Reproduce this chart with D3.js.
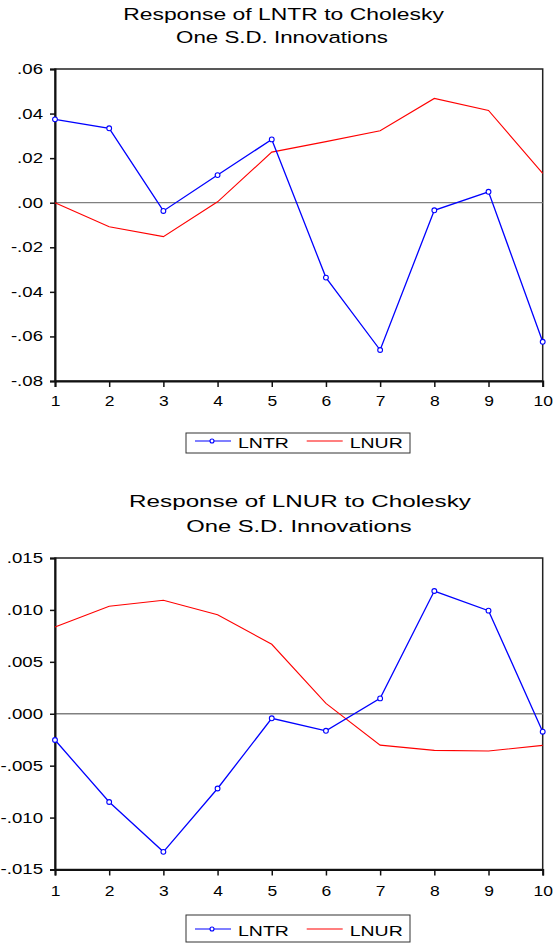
<!DOCTYPE html>
<html>
<head>
<meta charset="utf-8">
<script src="https://cdn.jsdelivr.net/npm/d3@7"></script>
<style>
  body { margin: 0; background: #fff; }
  svg { display: block; font-family: "Liberation Sans", Arial, sans-serif; }
</style>
</head>
<body>
<script>
// periods on the x axis
var periods = [1, 2, 3, 4, 5, 6, 7, 8, 9, 10];

// response of LNTR
var topLNTR = [0.0374, 0.0334, -0.0037, 0.0124, 0.0284, -0.0336, -0.0661, -0.0034, 0.0049, -0.0624];
var topLNUR = [0.0000, -0.0108, -0.0152, 0.0004, 0.0227, 0.0274, 0.0323, 0.0468, 0.0414, 0.0132];
var topTicks = [0.06, 0.04, 0.02, 0.00, -0.02, -0.04, -0.06, -0.08];

// response of LNUR
var botLNTR = [-0.00253, -0.0085, -0.0133, -0.0072, -0.00044, -0.00164, 0.00148, 0.01182, 0.00993, -0.00173];
var botLNUR = [0.00835, 0.01035, 0.01093, 0.00954, 0.00669, 0.00100, -0.00302, -0.00353, -0.00359, -0.00305];
var botTicks = [0.015, 0.010, 0.005, 0.000, -0.005, -0.010, -0.015];

var seriesNames = ["LNTR", "LNUR"];
var colors = ["#0000ff", "#ff0000"];

var svg = d3.select("body").append("svg").attr("width", 553).attr("height", 944);

// eviews style labels: ".06", "-.02"
var fmt = function(dec) {
  return function(v) {
    var s = Math.abs(v).toFixed(dec).replace(/^0/, "");
    return (v < -1e-9 ? "-" : "") + s;
  };
};

// the eviews text is stretched sideways, so scale it
var stretch = function(sel, sx) {
  sel.each(function() {
    var t = d3.select(this);
    var x0 = +t.attr("x") || 0;
    t.attr("x", x0 / sx).attr("transform", "scale(" + sx + ",1)");
  });
};

var drawPanel = function(p) {
  var g = svg.append("g");
  var x = d3.scaleLinear().domain([1, 10]).range([55, 542.7]);
  var y = d3.scaleLinear().domain(p.domain).range([p.bottom, p.top]);

  // titles, fitted to the widths in the picture
  p.title.forEach(function(txt, i) {
    var t = g.append("g").attr("transform", "translate(" + p.titleX[i] + "," + (p.titleY + i * p.titleGap) + ")")
      .append("text").attr("text-anchor", "middle").style("font-size", p.titleSize + "px").text(txt);
    var len = t.node().getComputedTextLength();
    t.attr("transform", "scale(" + (p.titleW[i] / len) + ",1)");
  });

  // frame
  g.append("rect").attr("x", x(1)).attr("y", p.top).attr("width", x(10) - x(1)).attr("height", p.bottom - p.top)
    .attr("fill", "none").attr("stroke", "#222").attr("stroke-width", 1.5);

  // zero line
  g.append("line").attr("x1", x(1)).attr("x2", x(10)).attr("y1", y(0)).attr("y2", y(0))
    .attr("stroke", "#808080").attr("stroke-width", 1.3);

  // y axis
  var ya = g.append("g").attr("transform", "translate(" + x(1) + ",0)")
    .call(d3.axisLeft(y).tickValues(p.ticks).tickFormat(fmt(p.dec)).tickSize(5).tickPadding(7));
  ya.select(".domain").attr("stroke", "#111").attr("stroke-width", 2);
  ya.selectAll(".tick line").attr("stroke", "#111").attr("stroke-width", 1.5);
  ya.selectAll("text").attr("fill", "#000").style("font-size", "14px")
    .attr("font-family", "Liberation Sans, Arial, sans-serif").call(stretch, 1.33);

  // x axis
  var xa = g.append("g").attr("transform", "translate(0," + p.bottom + ")")
    .call(d3.axisBottom(x).tickValues(periods).tickFormat(d3.format("d")).tickSize(6).tickPadding(p.xPad));
  xa.select(".domain").attr("stroke", "#111").attr("stroke-width", 2);
  xa.selectAll(".tick line").attr("stroke", "#111").attr("stroke-width", 1.5);
  xa.selectAll("text").attr("fill", "#000").style("font-size", "14px")
    .attr("font-family", "Liberation Sans, Arial, sans-serif").call(stretch, 1.25);

  var line = d3.line().x(function(d, i) { return x(periods[i]); }).y(function(d) { return y(d); });

  g.append("path").datum(p.lnur).attr("d", line).attr("fill", "none").attr("stroke", colors[1]).attr("stroke-width", 1.1);
  g.append("path").datum(p.lntr).attr("d", line).attr("fill", "none").attr("stroke", colors[0]).attr("stroke-width", 1.3);
  g.selectAll(".mk").data(p.lntr).enter().append("circle")
    .attr("cx", function(d, i) { return x(periods[i]); }).attr("cy", function(d) { return y(d); })
    .attr("r", 2.4).attr("fill", "#fff").attr("stroke", colors[0]).attr("stroke-width", 1.1);

  // legend
  var lg = g.append("g");
  lg.append("rect").attr("x", 186).attr("y", p.legTop).attr("width", 224).attr("height", p.legH)
    .attr("fill", "#fff").attr("stroke", "#333").attr("stroke-width", 1);
  var items = lg.selectAll(".item").data(seriesNames).enter().append("g")
    .attr("transform", function(d, i) { return "translate(" + (195 + i * 111.7) + "," + p.legLine + ")"; });
  items.append("line").attr("x1", 0).attr("x2", 36).attr("y1", 0).attr("y2", 0)
    .attr("stroke", function(d, i) { return colors[i]; }).attr("stroke-width", 1.2);
  items.filter(function(d, i) { return i === 0; }).append("circle").attr("cx", 17).attr("cy", 0).attr("r", 2)
    .attr("fill", "#fff").attr("stroke", colors[0]).attr("stroke-width", 1.1);
  items.append("text").attr("x", 43).attr("y", 7).style("font-size", "15px")
    .text(function(d) { return d; }).call(stretch, 1.3);
};

drawPanel({
  title: ["Response of LNTR to Cholesky", "One S.D. Innovations"], titleY: 19.5, titleGap: 23.2,
  titleX: [283.5, 282], titleW: [321, 212], titleSize: 17,
  top: 69, bottom: 381, domain: [-0.08, 0.06], ticks: topTicks, dec: 2, xPad: 9,
  lntr: topLNTR, lnur: topLNUR, legTop: 433, legH: 20, legLine: 441
});
drawPanel({
  title: ["Response of LNUR to Cholesky", "One S.D. Innovations"], titleY: 507, titleGap: 24.7,
  titleX: [300, 299], titleW: [342, 225.5], titleSize: 16,
  top: 558, bottom: 869.5, domain: [-0.015, 0.015], ticks: botTicks, dec: 3, xPad: 10.5,
  lntr: botLNTR, lnur: botLNUR, legTop: 915, legH: 27, legLine: 929
});
</script>
</body>
</html>
